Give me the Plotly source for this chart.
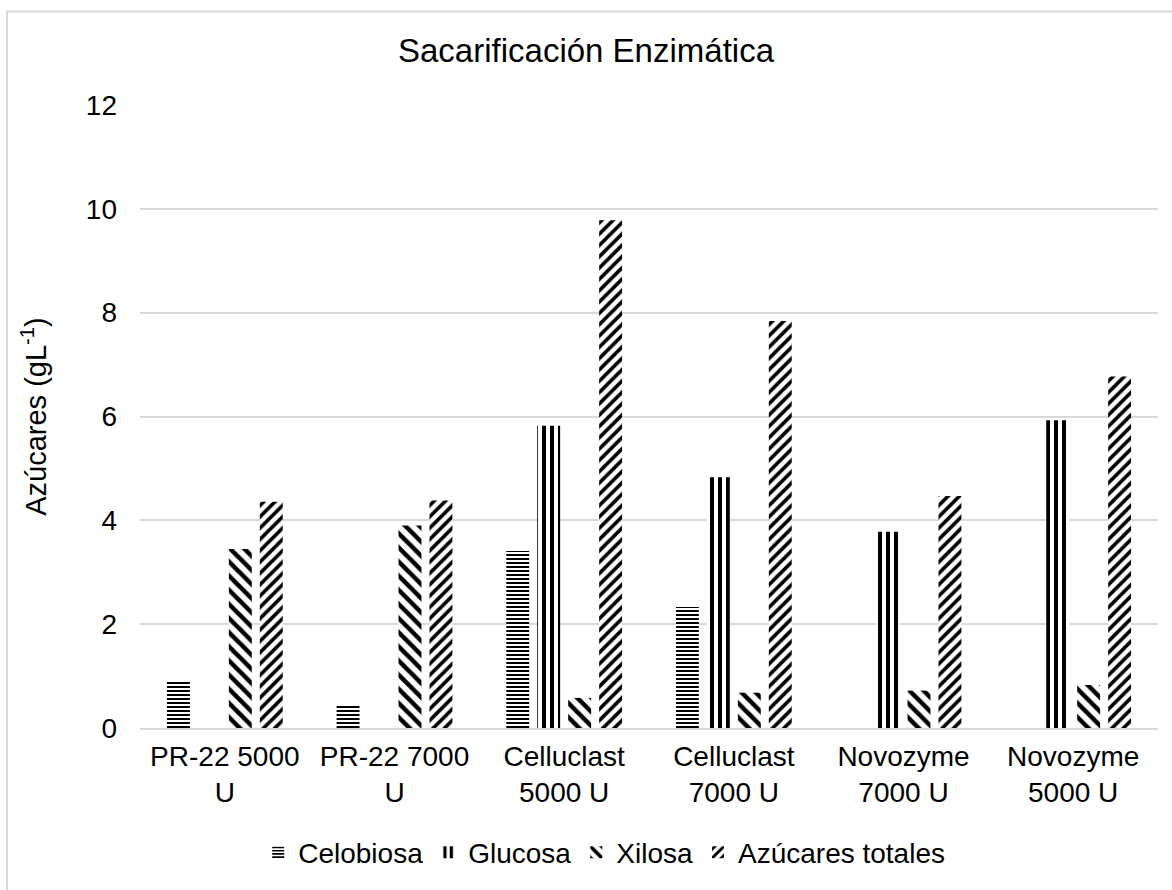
import plotly.graph_objects as go

categories = ["PR-22 5000<br>U", "PR-22 7000<br>U", "Celluclast<br>5000 U",
              "Celluclast<br>7000 U", "Novozyme<br>7000 U", "Novozyme<br>5000 U"]
celobiosa = [0.91, 0.46, 3.41, 2.33, 0, 0]
glucosa = [0, 0, 5.82, 4.83, 3.78, 5.93]
xilosa = [3.45, 3.90, 0.58, 0.68, 0.72, 0.83]
totales = [4.36, 4.38, 9.78, 7.84, 4.47, 6.77]

series = [
    ("Celobiosa", celobiosa, dict(shape="-", size=4, solidity=0.5)),
    ("Glucosa", glucosa, dict(shape="|", size=8, solidity=0.5)),
    ("Xilosa", xilosa, dict(shape="\\", size=10, solidity=0.45)),
    ("Azúcares totales", totales, dict(shape="/", size=8, solidity=0.45)),
]

fig = go.Figure()
for name, vals, pat in series:
    fig.add_trace(go.Bar(
        name=name, x=categories, y=vals,
        marker=dict(color="white", line=dict(width=0),
                    pattern=dict(fgcolor="black", bgcolor="white", fillmode="replace", **pat)),
    ))

font_family = "Liberation Sans, Arial, sans-serif"
fig.update_layout(
    width=1172, height=890,
    margin=dict(l=140, r=14, t=105, b=159),
    paper_bgcolor="white", plot_bgcolor="white",
    barmode="group", bargap=0.27, bargroupgap=0.26,
    font=dict(family=font_family, size=28, color="#000000"),
    title=dict(text="Sacarificación Enzimática", x=0.5, xanchor="center",
               y=1 - 50 / 890, yanchor="middle", yref="container",
               font=dict(size=33, color="#000000")),
    showlegend=True,
    legend=dict(orientation="h", x=0.456, xanchor="center", y=-0.2, yanchor="middle",
                font=dict(size=28), itemwidth=30, traceorder="normal"),
    xaxis=dict(showgrid=False, showline=True, linecolor="#d9d9d9", linewidth=2,
               ticks="", tickfont=dict(size=28), ticklabelstandoff=2),
    yaxis=dict(range=[0, 12], dtick=2, showgrid=True, gridcolor="#d9d9d9", gridwidth=2,
               zeroline=False, showline=False, ticks="", tickfont=dict(size=28),
               ticklabelstandoff=22,
               title=dict(text="Azúcares (gL<sup>-1</sup>)", standoff=30, font=dict(size=29))),
    shapes=[dict(type="rect", xref="paper", yref="paper",
                 x0=-0.1306, x1=1.03, y0=-0.28, y1=1.1502,
                 line=dict(color="#d9d9d9", width=2), layer="below")],
)

fig.write_html("out.html")
